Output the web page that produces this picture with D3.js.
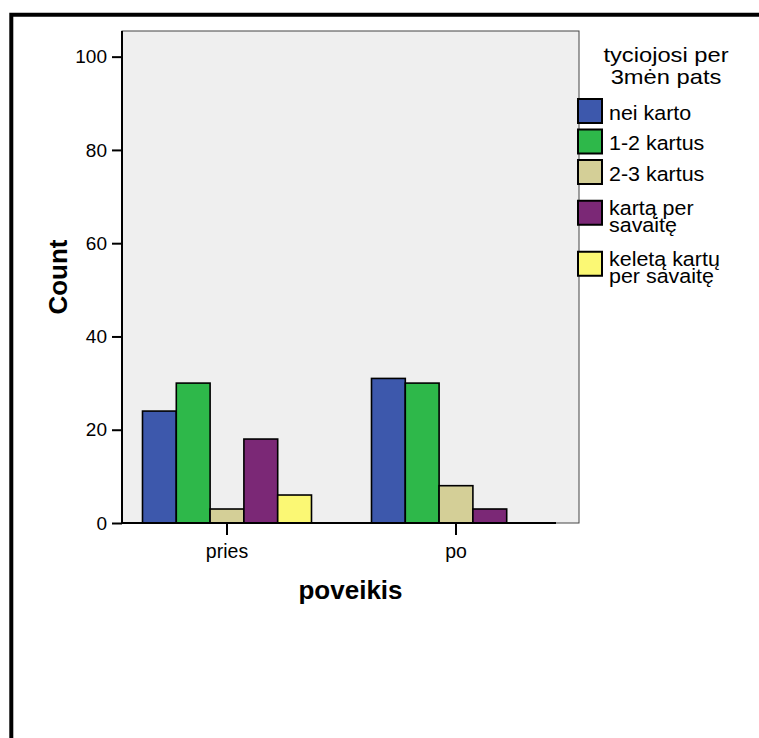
<!DOCTYPE html>
<html>
<head>
<meta charset="utf-8">
<script src="https://cdn.jsdelivr.net/npm/d3@7"></script>
<style>
  body { margin: 0; background: #fff; }
  svg { display: block; font-family: "Liberation Sans", Arial, sans-serif; }
</style>
</head>
<body>
<div id="container"></div>
<script>
// chart data
const groups = ["pries", "po"];
const seriesKeys = ["nei karto", "1-2 kartus", "2-3 kartus", "kartą per savaitę", "keletą kartų per savaitę"];
const legendLines = [["nei karto"], ["1-2 kartus"], ["2-3 kartus"], ["kartą per", "savaitę"], ["keletą kartų", "per savaitę"]];
const legendTitle = ["tyciojosi per", "3mėn pats"];
const valuesPries = [24, 30, 3, 18, 6];
const valuesPo = [31, 30, 8, 3, 0];
const yTicks = [0, 20, 40, 60, 80, 100];
const colors = ["#3d58ac", "#2eb84a", "#d4cf97", "#7b2876", "#fbf874"];

const values = {pries: valuesPries, po: valuesPo};

const W = 759, H = 738;
const plot = {left: 122, right: 579, top: 31, bottom: 523};

const svg = d3.select("#container")
  .append("svg")
  .attr("width", W)
  .attr("height", H);

// outer frame (only top and left are visible)
svg.append("path")
  .attr("d", `M${W + 5},14.7 H11.3 V${H + 5}`)
  .attr("fill", "none")
  .attr("stroke", "#000")
  .attr("stroke-width", 4);

// plot background
svg.append("rect")
  .attr("x", plot.left)
  .attr("y", plot.top)
  .attr("width", plot.right - plot.left)
  .attr("height", plot.bottom - plot.top)
  .attr("fill", "#efefef")
  .attr("stroke", "#444")
  .attr("stroke-width", 1);

const y = d3.scaleLinear()
  .domain([0, 105.5])
  .range([plot.bottom, plot.top]);

const x0 = d3.scaleBand()
  .domain(groups)
  .range([112.5, 570.5])
  .paddingInner(0.262)
  .paddingOuter(0.131);

const x1 = d3.scaleBand()
  .domain(seriesKeys)
  .range([0, x0.bandwidth()]);

const color = d3.scaleOrdinal()
  .domain(seriesKeys)
  .range(colors);

// bars
const barData = groups.flatMap(g => seriesKeys.map((k, i) => ({group: g, key: k, value: values[g][i]})));
svg.append("g")
  .selectAll("rect")
  .data(barData)
  .join("rect")
  .attr("x", d => x0(d.group) + x1(d.key))
  .attr("y", d => y(d.value))
  .attr("width", x1.bandwidth())
  .attr("height", d => y(0) - y(d.value))
  .attr("fill", d => color(d.key))
  .attr("stroke", "#000")
  .attr("stroke-width", 1.6);

// y axis
const yAxis = svg.append("g")
  .attr("transform", `translate(${plot.left},0)`)
  .call(d3.axisLeft(y).tickValues(yTicks).tickSize(10).tickPadding(5).tickFormat(d3.format("d")));
yAxis.select(".domain").remove();
yAxis.selectAll(".tick line").attr("stroke", "#000").attr("stroke-width", 2);
yAxis.selectAll(".tick text")
  .style("font-size", "19px")
  .style("font-family", "Liberation Sans, Arial, sans-serif")
  .attr("fill", "#000");

// x axis
const xAxis = svg.append("g")
  .attr("transform", `translate(0,${plot.bottom})`)
  .call(d3.axisBottom(x0).tickSize(12).tickPadding(9));
xAxis.select(".domain").remove();
xAxis.selectAll(".tick line").attr("stroke", "#000").attr("stroke-width", 2);
xAxis.selectAll(".tick text")
  .style("font-size", "19.5px")
  .style("font-family", "Liberation Sans, Arial, sans-serif")
  .attr("fill", "#000");

// axis lines
svg.append("line")
  .attr("x1", plot.left).attr("x2", plot.left)
  .attr("y1", plot.top).attr("y2", plot.bottom + 1)
  .attr("stroke", "#000").attr("stroke-width", 2);
svg.append("line")
  .attr("x1", plot.left - 1).attr("x2", 556)
  .attr("y1", plot.bottom).attr("y2", plot.bottom)
  .attr("stroke", "#000").attr("stroke-width", 2);

// axis titles
svg.append("text")
  .attr("x", (plot.left + plot.right) / 2)
  .attr("y", 599)
  .attr("text-anchor", "middle")
  .style("font-size", "26px")
  .style("font-weight", "bold")
  .text("poveikis");

svg.append("text")
  .attr("transform", `translate(67,${(plot.top + plot.bottom) / 2}) rotate(-90)`)
  .attr("text-anchor", "middle")
  .style("font-size", "26px")
  .style("font-weight", "bold")
  .text("Count");

// legend (text is a bit wider than the font, as in the original)
const legend = svg.append("g");
legend.append("text")
  .attr("transform", "translate(666,0) scale(1.13,1)")
  .attr("text-anchor", "middle")
  .style("font-size", "21px")
  .selectAll("tspan")
  .data(legendTitle)
  .join("tspan")
  .attr("x", 0)
  .attr("y", (d, i) => 62 + i * 22)
  .text(d => d);

let cy = 111;
legendLines.forEach((lines, i) => {
  if (i > 0) {
    const prevH = legendLines[i - 1].length > 1 ? 51 : 30.5;
    const curH = lines.length > 1 ? 51 : 30.5;
    cy += (prevH + curH) / 2;
  }
  legend.append("rect")
    .attr("x", 578)
    .attr("y", cy - 12)
    .attr("width", 24)
    .attr("height", 24)
    .attr("fill", colors[i])
    .attr("stroke", "#000")
    .attr("stroke-width", 2);
  const t = legend.append("text")
    .attr("transform", "translate(609,0) scale(1.1,1)")
    .style("font-size", "19.5px");
  const lh = 17;
  const firstBaseline = cy + 9 - (lines.length - 1) * 6.5;
  lines.forEach((line, j) => {
    t.append("tspan")
      .attr("x", 0)
      .attr("y", firstBaseline + j * lh)
      .text(line);
  });
});
</script>
</body>
</html>
